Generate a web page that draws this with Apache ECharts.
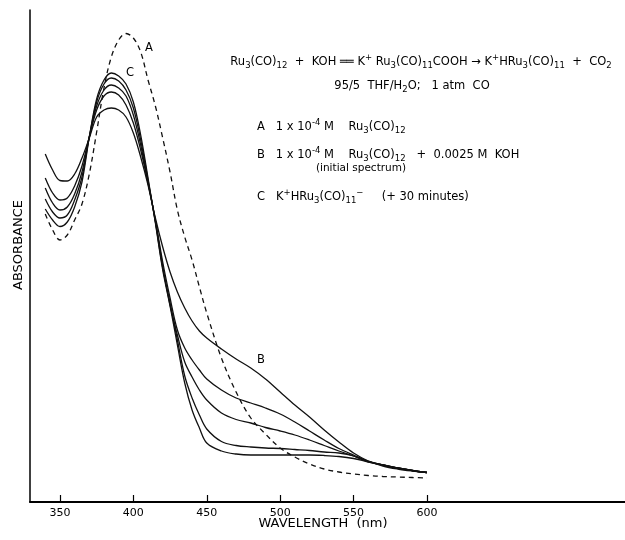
<!DOCTYPE html>
<html><head><meta charset="utf-8">
<script src="https://cdn.jsdelivr.net/npm/echarts@6/dist/echarts.min.js"></script>
<style>html,body{margin:0;padding:0;background:#fff}#c{width:625px;height:540px}</style>
</head><body><div id="c"></div>
<script>
// wavelengths (nm)
const wavelengths = [340,345,350,355,360,365,370,375,380,385,390,395,400,405,410,415,420,425,430,435,440,445,450,
  460,470,480,490,500,510,520,530,540,550,560,570,580,590,600];
// A: 1e-4 M Ru3(CO)12 (dashed)
const curveA = [0.576,0.544,0.524,0.534,0.564,0.596,0.656,0.740,0.828,0.890,0.924,0.937,0.928,0.900,0.844,0.792,0.728,0.660,0.584,0.530,0.484,0.430,0.378,
  0.288,0.220,0.168,0.136,0.108,0.090,0.076,0.066,0.060,0.056,0.053,0.051,0.050,0.049,0.048];
// B: initial spectrum with KOH
const curveB = [0.696,0.664,0.643,0.642,0.656,0.688,0.728,0.770,0.784,0.788,0.784,0.770,0.738,0.690,0.634,0.568,0.510,0.460,0.420,0.388,0.362,0.342,0.328,
  0.306,0.286,0.268,0.246,0.220,0.194,0.170,0.144,0.120,0.098,0.082,0.072,0.066,0.062,0.059];
// intermediate spectra
const curve2 = [0.648,0.618,0.604,0.608,0.632,0.672,0.730,0.784,0.812,0.820,0.814,0.794,0.758,0.704,0.638,0.564,0.480,0.408,0.344,0.308,0.284,0.264,0.246,
  0.224,0.208,0.198,0.188,0.176,0.160,0.142,0.124,0.107,0.094,0.082,0.074,0.068,0.063,0.059];
const curve3 = [0.628,0.598,0.584,0.590,0.616,0.660,0.730,0.792,0.824,0.834,0.828,0.812,0.774,0.714,0.640,0.562,0.472,0.394,0.334,0.280,0.250,0.224,0.204,
  0.178,0.165,0.158,0.149,0.142,0.134,0.124,0.113,0.102,0.092,0.081,0.074,0.068,0.063,0.059];
const curve4 = [0.606,0.580,0.568,0.574,0.604,0.650,0.730,0.800,0.836,0.848,0.842,0.824,0.788,0.724,0.644,0.560,0.468,0.398,0.324,0.252,0.208,0.174,0.146,
  0.121,0.113,0.110,0.108,0.107,0.105,0.103,0.100,0.098,0.092,0.080,0.074,0.068,0.063,0.059];
// C: K+HRu3(CO)11- (+30 min)
const curveC = [0.586,0.564,0.551,0.560,0.590,0.640,0.730,0.806,0.844,0.858,0.852,0.836,0.800,0.734,0.648,0.558,0.464,0.392,0.314,0.238,0.184,0.148,0.118,
  0.102,0.096,0.094,0.094,0.094,0.094,0.094,0.093,0.091,0.087,0.080,0.074,0.068,0.063,0.059];
const xTickValues = [350,400,450,500,550,600];

const FONT = 'DejaVu Sans';
const pair = arr => wavelengths.map((w, i) => [w, arr[i]]);
const rich = {
  sub: {fontSize: 8.5, fontFamily: FONT, padding: [8, 0, 0, 0], verticalAlign: 'middle', lineHeight: 18},
  sup: {fontSize: 8.5, fontFamily: FONT, padding: [0, 0, 8, 0], verticalAlign: 'middle', lineHeight: 18}
};
function txt(x, y, text, align, size) {
  return {type: 'text', x: x, y: y, silent: true,
    style: {text: text, rich: rich, fill: '#000', fontSize: size || 11.5, fontFamily: FONT, lineHeight: 18,
      align: align || 'left', textAlign: align || 'left', verticalAlign: 'middle', textVerticalAlign: 'middle'}};
}
function solid(name, arr) {
  return {name: name, type: 'line', data: pair(arr), showSymbol: false, smooth: 0.35,
    lineStyle: {color: '#111', width: 1.3}, z: 3};
}

const chart = echarts.init(document.getElementById('c'), null, {renderer: 'canvas'});
chart.setOption({
  animation: false,
  backgroundColor: '#fff',
  grid: {left: 30, right: 0, top: 10, bottom: 38, containLabel: false},
  xAxis: {
    type: 'value', min: 329.6, max: 734.9,
    axisLine: {show: true, lineStyle: {color: '#000', width: 2}},
    axisTick: {show: true, inside: true, length: 7, customValues: xTickValues, lineStyle: {color: '#000', width: 1.2}},
    axisLabel: {show: true, customValues: xTickValues, margin: 6, color: '#000', fontSize: 11, fontFamily: FONT},
    splitLine: {show: false}
  },
  yAxis: {
    type: 'value', min: 0, max: 0.984,
    axisLine: {show: true, lineStyle: {color: '#000', width: 1.5}},
    axisTick: {show: false}, axisLabel: {show: false}, splitLine: {show: false}
  },
  series: [
    {name: 'A', type: 'line', data: pair(curveA), showSymbol: false, smooth: 0.35,
      lineStyle: {color: '#111', width: 1.3, type: [5, 4]}, z: 2},
    solid('B', curveB), solid('2', curve2), solid('3', curve3), solid('4', curve4), solid('C', curveC)
  ],
  graphic: [
    txt(421, 62, 'Ru{sub|3}(CO){sub|12}  +  KOH ══ K{sup|+} Ru{sub|3}(CO){sub|11}COOH → K{sup|+}HRu{sub|3}(CO){sub|11}  +  CO{sub|2}', 'center'),
    txt(412, 86, '95/5  THF/H{sub|2}O;   1 atm  CO', 'center'),
    txt(257, 127, 'A   1 x 10{sup|-4} M    Ru{sub|3}(CO){sub|12}'),
    txt(257, 155, 'B   1 x 10{sup|-4} M    Ru{sub|3}(CO){sub|12}   +  0.0025 M  KOH'),
    txt(361, 168, '(initial spectrum)', 'center', 10.5),
    txt(257, 197, 'C   K{sup|+}HRu{sub|3}(CO){sub|11}{sup|−}     (+ 30 minutes)'),
    txt(149, 48, 'A', 'center'),
    txt(130, 73, 'C', 'center'),
    txt(261, 360, 'B', 'center'),
    txt(323, 524, 'WAVELENGTH  (nm)', 'center', 13),
    {type: 'text', x: 19, y: 245, rotation: Math.PI / 2, silent: true,
      style: {text: 'ABSORBANCE', fill: '#000', fontSize: 13, fontFamily: FONT,
        align: 'center', textAlign: 'center', verticalAlign: 'middle', textVerticalAlign: 'middle'}}
  ]
});
</script></body></html>
